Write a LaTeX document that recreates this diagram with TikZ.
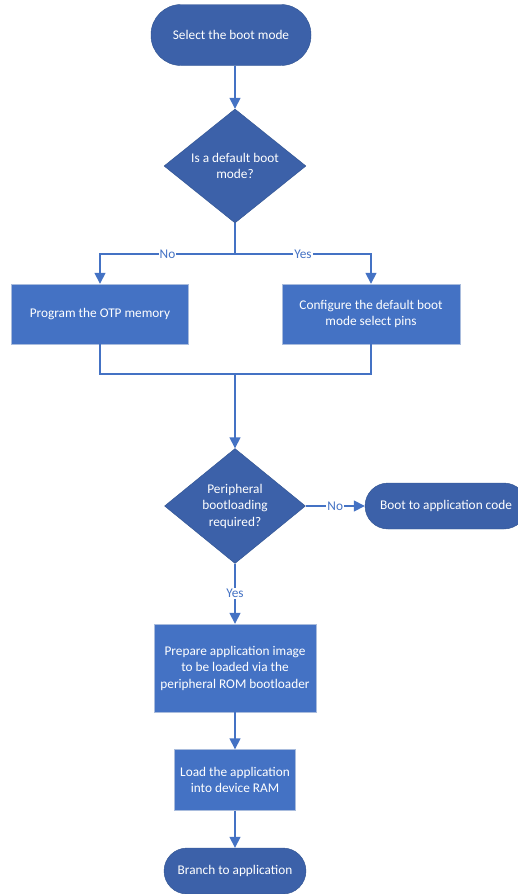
\documentclass[tikz,border=0pt]{standalone}
\usepackage{fontspec}
\setmainfont{Carlito}
\usetikzlibrary{shapes.geometric,arrows.meta}
\definecolor{darkblue}{HTML}{3C61A9}
\definecolor{midblue}{HTML}{4472C4}
\definecolor{edgeblue}{HTML}{2F528F}
\definecolor{paleblue}{HTML}{A9BCDD}

\begin{document}
\begin{tikzpicture}[x=1pt, y=-1pt,
  every node/.style={font=\fontsize{13.3}{16.5}\selectfont, text=white, align=center},
  term/.style={draw=edgeblue, fill=darkblue, rectangle, rounded corners=23pt, minimum height=46pt, inner sep=0pt},
  decision/.style={draw=edgeblue, fill=darkblue, diamond, aspect=1.25, inner sep=0pt, minimum width=142pt, minimum height=114pt},
  proc/.style={draw=paleblue, fill=midblue, rectangle, inner sep=0pt},
  line/.style={draw=midblue, line width=1.5pt},
  arr/.style={line, -{Triangle[width=11pt,length=11pt]}},
  lbl/.style={text=midblue, fill=white, inner sep=1pt}]
\useasboundingbox (0,0) rectangle (517,894);

% top part
\node[term, rounded corners=30pt, minimum width=160pt, minimum height=61pt] (start) at (231,35) {Select the boot mode};
\node[decision] (mode) at (235,166) {Is a default boot\\mode?};
\node[proc, minimum width=177pt, minimum height=60pt] (otp) at (100,314) {Program the OTP memory};
\node[proc, minimum width=178pt, minimum height=60pt] (pins) at (371,314) {Configure the default boot\\mode select pins};
\coordinate (split) at (235,254);
\coordinate (merge) at (235,374);

% lower part
\node[decision, minimum width=141pt, minimum height=115pt] (periph) at (235,506) {Peripheral\\bootloading\\required?};
\node[term, minimum width=162pt] (boot) at (446,506) {Boot to application code};
\node[proc, minimum width=162pt, minimum height=88pt] (prep) at (235,668) {Prepare application image\\to be loaded via the\\peripheral ROM bootloader};
\node[proc, minimum width=121pt, minimum height=61pt] (load) at (235,780) {Load the application\\into device RAM};
\node[term, minimum width=142pt] (branch) at (235,871) {Branch to application};

\draw[arr] (start.south -| mode) -- (mode);
\draw[arr] (mode.south) -- (split) -- node[lbl]{No} (otp.north |- split) -- (otp.north);
\draw[arr] (split) -- node[lbl]{Yes} (pins.north |- split) -- (pins.north);
\draw[line] (otp.south) -- (otp.south |- merge) -- (pins.south |- merge) -- (pins.south);
\draw[arr] (merge) -- (periph.north);
\draw[arr] (periph.east) -- node[lbl]{No} (boot.west);
\draw[arr] (periph.south) -- node[lbl]{Yes} (prep.north);
\draw[arr] (prep) -- (load);
\draw[arr] (load) -- (branch);
\end{tikzpicture}
\end{document}
